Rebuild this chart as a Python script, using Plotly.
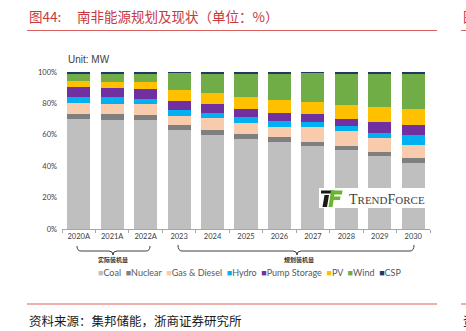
import plotly.graph_objects as go

categories = ["2020A", "2021A", "2022A", "2023", "2024", "2025", "2026", "2027", "2028", "2029", "2030"]
coal = [70.0, 69.6, 69.2, 62.8, 60.1, 57.6, 55.2, 52.7, 50.6, 46.6, 42.1]
nuclear = [3.2, 3.8, 3.6, 3.2, 3.2, 3.0, 3.2, 2.8, 2.5, 2.5, 2.9]
gas_diesel = [6.8, 6.4, 6.6, 5.7, 7.2, 7.0, 6.6, 9.5, 9.1, 8.9, 8.8]
hydro = [4.3, 4.2, 3.6, 4.3, 3.4, 3.6, 3.8, 3.4, 3.4, 3.0, 6.3]
pump_storage = [6.4, 5.6, 6.2, 5.3, 5.5, 5.1, 5.3, 4.6, 4.7, 7.0, 5.9]
pv = [3.8, 4.2, 4.2, 7.0, 7.2, 8.0, 7.8, 7.7, 8.9, 9.4, 10.7]
wind = [4.4, 4.9, 5.3, 11.1, 12.5, 14.8, 17.1, 18.7, 19.8, 21.6, 22.3]
csp = [1.1, 1.3, 1.3, 0.6, 0.9, 0.9, 1.0, 0.6, 1.0, 1.0, 1.0]

series = [
    ("Coal", coal, "#BFBFBF"),
    ("Nuclear", nuclear, "#7F7F7F"),
    ("Gas & Diesel", gas_diesel, "#F8CBAD"),
    ("Hydro", hydro, "#00B0F0"),
    ("Pump Storage", pump_storage, "#7030A0"),
    ("PV", pv, "#FFC000"),
    ("Wind", wind, "#70AD47"),
    ("CSP", csp, "#1F3864"),
]
ytick_vals = [0, 20, 40, 60, 80, 100]
ytick_text = ["0%", "20%", "40%", "60%", "80%", "100%"]

W, H = 466, 331
L, R, T, B = 62, 36, 72, 102
PW, PH = W - L - R, H - T - B


def fx(x):
    return (x - L) / PW


def fy(y):
    return (H - B - y) / PH


fig = go.Figure()
for name, vals, col in series:
    fig.add_trace(go.Bar(x=categories, y=vals, name=name,
                         marker=dict(color=col, line=dict(width=0))))

label_font = dict(family="Lato, Noto Sans, sans-serif", color="#404040")
fig.update_layout(
    width=W, height=H, barmode="stack", bargap=0.31,
    margin=dict(l=L, r=R, t=T, b=B, pad=0),
    paper_bgcolor="white", plot_bgcolor="white", showlegend=False,
    xaxis=dict(showline=True, linecolor="#A6A6A6", linewidth=1,
               ticks="outside", ticklen=3, tickcolor="#A6A6A6", tickson="boundaries",
               tickfont=dict(size=7.5, **label_font), showgrid=False),
    yaxis=dict(range=[0, 100], tickvals=ytick_vals, ticktext=ytick_text,
               showgrid=False, zeroline=False, showline=False,
               tickfont=dict(size=7.5, **label_font), ticklabelstandoff=4),
)

shapes = []
annos = []
red = "#C8383C"
line_red = "#D9625F"
cjk = "Noto Sans CJK SC"


def anno(x, y, text, size, color, family, xanchor="left"):
    annos.append(dict(x=fx(x), y=fy(y), xref="paper", yref="paper", text=text, showarrow=False,
                      xanchor=xanchor, yanchor="middle", font=dict(family=family, size=size, color=color)))


# Title and lines
anno(27, 16, "图44:", 13.5, red, cjk)
anno(75, 16, "南非能源规划及现状（单位：%）", 13.5, red, cjk)
anno(461, 16, "图", 13.5, red, cjk)
for yy in (30.5, 304):
    shapes.append(dict(type="line", xref="paper", yref="paper", x0=fx(27), x1=fx(437), y0=fy(yy), y1=fy(yy),
                       line=dict(color=line_red, width=1)))
    shapes.append(dict(type="line", xref="paper", yref="paper", x0=fx(461), x1=fx(470), y0=fy(yy), y1=fy(yy),
                       line=dict(color=line_red, width=1)))
anno(27, 320, "资料来源：集邦储能，浙商证券研究所", 12.5, "#1A1A1A", cjk)
anno(461, 320, "资", 12.5, "#1A1A1A", cjk)

# Unit label
anno(66, 59.5, "Unit: MW", 10, "#404040", "Liberation Sans, Arial, sans-serif")


def brace(x0, x1, xm, ytop, ybase, ytip):
    r = 4
    return (f"M {fx(x0)} {fy(ytop)} Q {fx(x0)} {fy(ybase)} {fx(x0 + r)} {fy(ybase)} "
            f"L {fx(xm - r)} {fy(ybase)} Q {fx(xm)} {fy(ybase)} {fx(xm)} {fy(ytip)} "
            f"Q {fx(xm)} {fy(ybase)} {fx(xm + r)} {fy(ybase)} "
            f"L {fx(x1 - r)} {fy(ybase)} Q {fx(x1)} {fy(ybase)} {fx(x1)} {fy(ytop)}")


shapes.append(dict(type="path", xref="paper", yref="paper", path=brace(77, 150, 113, 246, 251, 255),
                   line=dict(color="#404040", width=1)))
shapes.append(dict(type="path", xref="paper", yref="paper", path=brace(178, 414, 297, 245, 251, 255),
                   line=dict(color="#404040", width=1)))
anno(113, 259.5, "<b>实际装机量</b>", 6, "#333333", cjk, "center")
anno(299, 259.5, "<b>规划装机量</b>", 6, "#333333", cjk, "center")

# Custom legend line
parts = []
for name, _, col in series:
    parts.append(f"<span style='color:{col}'>■</span>{name}")
anno(96, 272, "&nbsp; ".join(parts), 9, "#595959", "Lato, sans-serif")

# TrendForce watermark
shapes.append(dict(type="rect", xref="paper", yref="paper", x0=fx(319), x1=fx(431), y0=fy(188), y1=fy(208),
                   fillcolor="white", line=dict(width=0), layer="above"))


def poly(pts, color):
    p = "M " + " L ".join(f"{fx(a)} {fy(b)}" for a, b in pts) + " Z"
    return dict(type="path", xref="paper", yref="paper", path=p, fillcolor=color,
                line=dict(width=0), layer="above")


shapes.append(poly([(321, 190.5), (333, 190.5), (332.5, 193.5), (321, 193.5)], "#1A1A1A"))
shapes.append(poly([(324.5, 195), (329, 195), (327, 207), (322.5, 207)], "#1A1A1A"))
shapes.append(poly([(331.5, 190.5), (342.5, 190.5), (342, 194.5), (331, 194.5)], "#6BB52E"))
shapes.append(poly([(331, 196.5), (340.5, 196.5), (340, 200), (330.5, 200)], "#6BB52E"))
shapes.append(poly([(331, 190.5), (335, 190.5), (332.5, 207), (328.5, 207)], "#6BB52E"))
anno(347, 199, "T<span style='font-size:11px'>REND</span>F<span style='font-size:11px'>ORCE</span>",
     14, "#3F3F3F", "Liberation Serif, serif")

fig.update_layout(shapes=shapes, annotations=annos)
fig.write_html("out.html")
